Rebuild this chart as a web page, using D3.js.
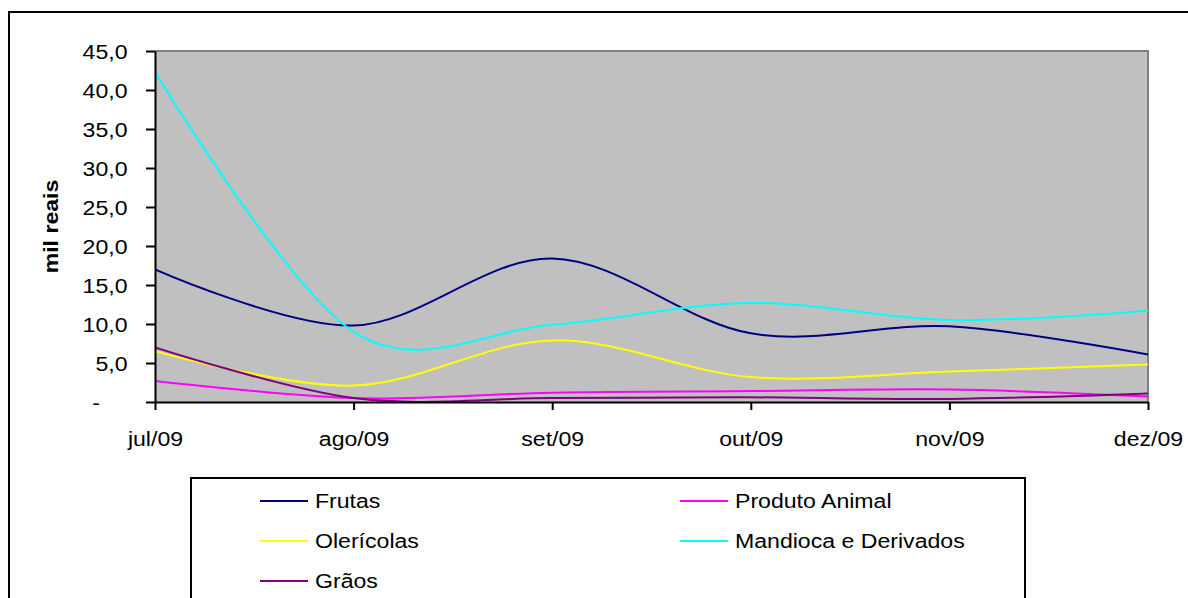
<!DOCTYPE html>
<html>
<head>
<meta charset="utf-8">
<script src="https://cdn.jsdelivr.net/npm/d3@7"></script>
<style>
  body { margin: 0; background: #fff; }
  svg { display: block; font-family: Arial, "Liberation Sans", sans-serif; }
</style>
</head>
<body>
<svg width="1188" height="598"></svg>
<script>
// data (mil reais)
const months = ['jul/09', 'ago/09', 'set/09', 'out/09', 'nov/09', 'dez/09'];
const frutas = [17.0, 9.8, 18.4, 8.8, 9.7, 6.1];
const produtoAnimal = [2.7, 0.5, 1.2, 1.4, 1.6, 0.7];
const olericolas = [6.5, 2.1, 7.9, 3.2, 3.9, 4.8];
const mandioca = [42.3, 9.0, 9.9, 12.7, 10.5, 11.7];
const graos = [7.0, 0.5, 0.5, 0.6, 0.4, 1.1];
const yTicks = [0, 5, 10, 15, 20, 25, 30, 35, 40, 45];

const series = [
  {name: 'Frutas', values: frutas, color: '#000080'},
  {name: 'Produto Animal', values: produtoAnimal, color: '#FF00FF'},
  {name: 'Olerícolas', values: olericolas, color: '#FFFF00'},
  {name: 'Mandioca e Derivados', values: mandioca, color: '#00FFFF'},
  {name: 'Grãos', values: graos, color: '#800080'}
];

var svg = d3.select('svg');
var fontSize = 21;
var stretch = 1.1;   // the original text is a bit wider than plain Arial

var plotL = 155, plotR = 1148, plotT = 51, plotB = 402;

var x = d3.scalePoint().domain(months).range([plotL, plotR]);
var y = d3.scaleLinear().domain([0, 45]).range([plotB, plotT]);

// outer chart border
svg.append('rect')
  .attr('x', 9).attr('y', 12)
  .attr('width', 1200).attr('height', 700)
  .attr('fill', 'none').attr('stroke', '#000').attr('stroke-width', 2);

// plot area
svg.append('rect')
  .attr('x', plotL).attr('y', plotT)
  .attr('width', plotR - plotL).attr('height', plotB - plotT)
  .attr('fill', '#C0C0C0');
svg.append('path')
  .attr('d', `M${plotL},${plotT}H${plotR}V${plotB}`)
  .attr('fill', 'none').attr('stroke', '#808080').attr('stroke-width', 2);

svg.append('clipPath').attr('id', 'plot-clip')
  .append('rect')
  .attr('x', plotL).attr('y', plotT - 2)
  .attr('width', plotR - plotL + 2).attr('height', plotB - plotT + 2);

var line = d3.line()
  .x((d, i) => x(months[i]))
  .y(d => y(d))
  .curve(d3.curveCardinal.tension(0));

svg.append('g')
  .attr('clip-path', 'url(#plot-clip)')
  .selectAll('path')
  .data(series)
  .enter()
  .append('path')
  .attr('d', d => line(d.values))
  .attr('fill', 'none')
  .attr('stroke', d => d.color)
  .attr('stroke-width', 2);

// y axis
var yAxis = svg.append('g')
  .attr('transform', `translate(${plotL},0)`)
  .call(d3.axisLeft(y).tickValues(yTicks).tickSizeInner(9).tickSizeOuter(0)
    .tickFormat(v => v === 0 ? '-' : v.toFixed(1).replace('.', ',')));
yAxis.select('.domain').attr('stroke', '#000').attr('stroke-width', 2);
yAxis.selectAll('.tick line').attr('stroke', '#000').attr('stroke-width', 2);
yAxis.selectAll('.tick text')
  .attr('x', v => v === 0 ? -55 / stretch : -27.5 / stretch)
  .attr('dy', '0.35em')
  .attr('transform', `scale(${stretch},1)`)
  .attr('font-size', fontSize)
  .attr('font-family', 'Arial, "Liberation Sans", sans-serif')
  .attr('fill', '#000');

// x axis
var xAxis = svg.append('g')
  .attr('transform', `translate(0,${plotB})`)
  .call(d3.axisBottom(x).tickSizeInner(8).tickSizeOuter(0));
xAxis.select('.domain').attr('stroke', '#000').attr('stroke-width', 2);
xAxis.selectAll('.tick line').attr('stroke', '#000').attr('stroke-width', 2);
xAxis.selectAll('.tick text')
  .attr('y', 44)
  .attr('dy', 0)
  .attr('transform', `scale(${stretch},1)`)
  .attr('font-size', fontSize)
  .attr('font-family', 'Arial, "Liberation Sans", sans-serif')
  .attr('fill', '#000');

// axis title
svg.append('text')
  .attr('transform', `translate(58,${(plotT + plotB) / 2}) rotate(-90) scale(${stretch},1)`)
  .attr('text-anchor', 'middle')
  .attr('font-size', fontSize)
  .attr('font-weight', 'bold')
  .text('mil reais');

// legend
svg.append('rect')
  .attr('x', 191).attr('y', 478)
  .attr('width', 1025 - 191).attr('height', 200)
  .attr('fill', '#fff').attr('stroke', '#000').attr('stroke-width', 2);

var legendCols = [260, 680];
var legendRows = [501, 541, 581];

var items = svg.selectAll('.legend-item')
  .data(series)
  .enter()
  .append('g')
  .attr('class', 'legend-item')
  .attr('transform', (d, i) => `translate(${legendCols[i % 2]},${legendRows[Math.floor(i / 2)]})`);

items.append('line')
  .attr('x1', 0).attr('x2', 48)
  .attr('stroke', d => d.color)
  .attr('stroke-width', 2);

items.append('text')
  .attr('x', 55 / stretch)
  .attr('dy', '0.35em')
  .attr('transform', `scale(${stretch},1)`)
  .attr('font-size', fontSize)
  .text(d => d.name);
</script>
</body>
</html>
